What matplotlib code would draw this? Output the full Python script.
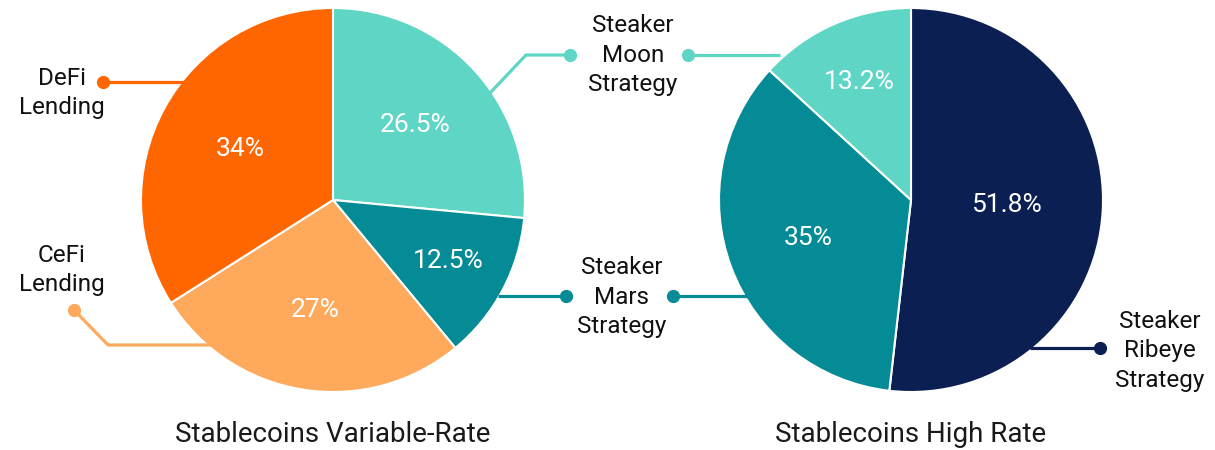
import numpy as np
import matplotlib
matplotlib.use("Agg")
import matplotlib.pyplot as plt

plt.rcParams["font.family"] = ["Roboto", "DejaVu Sans"]

# 数据
left_title = "Stablecoins Variable-Rate"
left_names = ["Steaker\nMoon\nStrategy", "Steaker\nMars\nStrategy", "CeFi\nLending", "DeFi\nLending"]
left_values = [26.5, 12.5, 27, 34]
left_pcts = ["26.5%", "12.5%", "27%", "34%"]
left_colors = ["#5fd5c5", "#058b95", "#fea95c", "#ff6600"]

right_title = "Stablecoins High Rate"
right_names = ["Steaker\nRibeye\nStrategy", "Steaker\nMars\nStrategy", "Steaker\nMoon\nStrategy"]
right_values = [51.8, 35, 13.2]
right_pcts = ["51.8%", "35%", "13.2%"]
right_colors = ["#0b1f52", "#058b95", "#5fd5c5"]

W, H = 1215, 450
R = 192

fig = plt.figure(figsize=(W / 100, H / 100), dpi=100)
ax = fig.add_axes([0, 0, 1, 1])
ax.set_xlim(0, W)
ax.set_ylim(0, H)
ax.set_aspect("equal")
ax.axis("off")


def draw_pie(cx, cy, values, pcts, colors, dists):
    wedges, _ = ax.pie(values, colors=colors, startangle=90, counterclock=False,
                       center=(cx, cy), radius=R, frame=True,
                       wedgeprops=dict(edgecolor="white", linewidth=1.5))
    for w, p, d in zip(wedges, pcts, dists):
        ang = np.deg2rad((w.theta1 + w.theta2) / 2)
        ax.text(cx + d * R * np.cos(ang), cy + d * R * np.sin(ang), p,
                color="white", fontsize=19, ha="center", va="center")


draw_pie(333, 250, left_values, left_pcts, left_colors, [0.58, 0.68, 0.58, 0.55])
draw_pie(911, 250, right_values, right_pcts, right_colors, [0.5, 0.57, 0.67])

# 引线 (像素坐标, y 向下)
def leader(pts, color):
    xs = [p[0] for p in pts]
    ys = [H - p[1] for p in pts]
    ax.plot(xs, ys, color=color, lw=2.3, solid_capstyle="butt", zorder=3)
    d = pts[-1]
    ax.plot(d[0], H - d[1], "o", color=color, ms=8.5, zorder=4)


leader([(190, 82), (103, 82)], left_colors[3])
leader([(215, 345), (108, 345), (74, 310)], left_colors[2])
leader([(490, 93), (526, 55), (570, 55)], left_colors[0])
leader([(498, 296), (566, 296)], left_colors[1])
leader([(780, 55), (688, 55)], right_colors[2])
leader([(750, 296), (673, 296)], right_colors[1])
leader([(1030, 348), (1100, 348)], right_colors[0])

label_pos = {
    "DeFi\nLending": (62, 93),
    "CeFi\nLending": (62, 270),
    "Steaker\nMoon\nStrategy": (633, 55),
    "Steaker\nMars\nStrategy": (622, 297),
    "Steaker\nRibeye\nStrategy": (1160, 351),
}
for name, (x, y) in label_pos.items():
    ax.text(x, H - y, name, fontsize=17.5, color="#111111", ha="center", va="center",
            linespacing=1.38)

ax.text(333, H - 435, left_title, fontsize=20, color="#1a1a1a", ha="center", va="center")
ax.text(911, H - 435, right_title, fontsize=20, color="#1a1a1a", ha="center", va="center")

ax.set_xlim(0, W)
ax.set_ylim(0, H)
fig.savefig("out.png", dpi=100, facecolor="white")
